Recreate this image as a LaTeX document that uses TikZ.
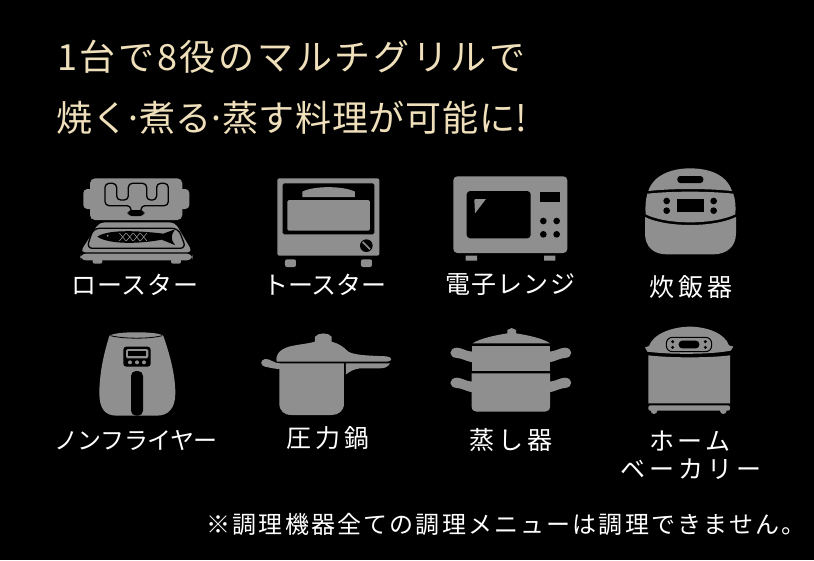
\documentclass[tikz,border=0pt]{standalone}
\usepackage{fontspec}
\setmainfont{Noto Sans CJK JP}
\definecolor{ico}{HTML}{8F8F8F}
\definecolor{gold}{HTML}{EFE0BB}
\tikzset{
 lab/.style={text=white,inner sep=0pt,anchor=center},
 ttl/.style={text=gold,inner sep=0pt,anchor=west},
 ic/.style={fill=ico,draw=none},
 bk/.style={fill=black,draw=none},
 zoomA/.style={shift={(60,165)},scale=0.33333},
 zoomB/.style={shift={(430,165)},scale=0.33333},
 zoomC/.style={shift={(60,325)},scale=0.33333},
 zoomD/.style={shift={(430,320)},scale=0.33333},
}
\begin{document}
\begin{tikzpicture}[x=1pt,y=-1pt]
\useasboundingbox (0,0) rectangle (814,560);
\fill[black] (0,0) rectangle (814,560);
% titles
\node[ttl] (t1) at (57,57) {\fontsize{36}{36}\selectfont\addfontfeature{LetterSpace=7.5}1台で8役のマルチグリルで};
\node[ttl] (t2) at (56,118) {\fontsize{36}{36}\selectfont\addfontfeature{LetterSpace=2}焼く\hspace{-5pt}·\hspace{-5pt}煮る\hspace{-5pt}·\hspace{-5pt}蒸す料理が可能に!};
% labels
\newcommand{\lab}[5]{\node[lab] (#1) at (#2) {\fontsize{#5}{#5}\selectfont\addfontfeature{LetterSpace=#3}#4};}
\lab{l1}{135,285}{3}{ロースター}{25}
\lab{l2}{325,285}{0}{トースター}{25}
\lab{l3}{510,285}{5}{電子レンジ}{25}
\lab{l4}{691,287}{16}{炊飯器}{25}
\lab{l5}{136,440}{-2.5}{ノンフライヤー}{24}
\lab{l6}{328,438}{16}{圧力鍋}{25}
\lab{l7}{511,440}{16}{蒸し器}{25}
\lab{l8}{690,441}{14}{ホーム}{25}
\lab{l9}{691,469}{16}{ベーカリー}{25}
\node[lab] (note) at (506,524) {\fontsize{24}{24}\selectfont\addfontfeature{LetterSpace=9}※調理機器全ての調理メニューは調理できません。};
% roaster
\begin{scope}[zoomA]
\fill[ic,rounded corners=4pt] (70,72) rectangle (100,132);
\fill[ic,rounded corners=4pt] (355,72) rectangle (388,132);
\fill[ic,rounded corners=5pt] (90,40) -- (367,40) -- (367,165) -- (90,165) -- cycle;
\draw[black,line width=1.3pt,rounded corners=4pt] (213,140) -- (213,122) -- (135,122) -- (135,55) -- (170,55) -- (170,105) -- (205,105) -- (205,55) -- (260,55) -- (260,105) -- (290,105) -- (290,55) -- (325,55) -- (325,122) -- (243,122) -- (243,140);
\fill[bk,rounded corners=4pt] (203,135) rectangle (253,153);
\fill[ic,rounded corners=5pt] (118,172) -- (345,172) -- (398,262) -- (60,262) -- cycle;
\fill[ic,rounded corners=6pt] (60,266) rectangle (398,286);
\fill[ic,rounded corners=2pt] (98,282) rectangle (127,296);
\fill[ic,rounded corners=2pt] (333,282) rectangle (363,296);
\draw[black,line width=1.3pt,rounded corners=6pt] (100,190) -- (355,190) -- (378,250) -- (80,250) -- cycle;
\fill[bk] (112,215) .. controls (140,195) and (220,195) .. (310,206) -- (345,193) .. controls (332,210) and (332,225) .. (345,240) -- (305,224) .. controls (220,240) and (140,235) .. (112,215) -- cycle;
\fill[ico] (143,212) circle (3);
\foreach \i in {0,1,2,3} {
 \draw[ico,line width=.6pt] ({178+\i*21},204) -- ({198+\i*21},228) ({198+\i*21},204) -- ({178+\i*21},228);
}
\end{scope}
% toaster
\begin{scope}[zoomA]
\fill[ic,rounded corners=2pt] (652,40) rectangle (958,272);
\fill[bk,rounded corners=1.5pt] (668,55) rectangle (943,208);
\fill[ic,rounded corners=1.5pt] (682,105) rectangle (930,197);
\fill[ic] (727,96) -- (727,80) .. controls (760,62) and (850,62) .. (885,80) -- (885,96) -- cycle;
\fill[ic,rounded corners=2pt] (675,283) rectangle (708,306);
\fill[ic,rounded corners=2pt] (903,283) rectangle (936,306);
\fill[bk] (919,242) circle (19);
\draw[ico,line width=1.6pt] (908,231) -- (930,253);
\end{scope}
% microwave
\begin{scope}[zoomB]
\fill[ic,rounded corners=4pt] (70,34) rectangle (412,264);
\fill[ic] (107,272) rectangle (141,287) (342,272) rectangle (376,287);
\fill[bk,rounded corners=3.5pt] (110,78) rectangle (302,220);
\fill[ic] (133,105) .. controls (133,103) .. (136,102) -- (168,102) -- (135,145) -- cycle;
\fill[bk] (330,82) rectangle (390,112);
\foreach \p in {(340,168),(380,168),(340,208),(380,208)} \fill[bk] \p circle (10);
\end{scope}
% rice cooker
\begin{scope}[zoomB]
\fill[ic] (655,78) .. controls (670,30) and (725,10) .. (780,10) .. controls (840,10) and (890,30) .. (906,78) .. controls (830,70) and (730,70) .. (655,78) -- cycle;
\fill[bk,rounded corners=3pt] (742,33) rectangle (820,54);
\fill[ic] (652,86) .. controls (730,78) and (830,78) .. (910,86) .. controls (916,105) and (918,125) .. (916,148) .. controls (850,180) and (710,180) .. (647,148) .. controls (645,125) and (647,105) .. (652,86) -- cycle;
\fill[ic] (645,156) .. controls (710,188) and (850,188) .. (918,156) -- (918,205) .. controls (918,245) and (890,268) .. (850,268) -- (710,268) .. controls (670,268) and (645,245) .. (645,205) -- cycle;
\foreach \p in {(710,108),(710,137),(851,108),(851,137)} \fill[bk] \p circle (10);
\fill[bk] (740,103) rectangle (822,140);
\end{scope}
% air fryer
\begin{scope}[zoomC]
\fill[ic] (148,33) .. controls (160,18) and (300,18) .. (310,33) .. controls (330,90) and (346,150) .. (346,205) .. controls (346,250) and (325,272) .. (290,272) -- (170,272) .. controls (135,272) and (118,250) .. (118,205) .. controls (118,150) and (130,90) .. (148,33) -- cycle;
\draw[black,line width=.8pt] (152,32) .. controls (190,42) and (270,42) .. (306,32);
\fill[bk,rounded corners=3pt] (190,65) rectangle (272,125);
\fill[ic,rounded corners=1.5pt] (198,72) rectangle (265,100);
\fill[bk] (205,78) rectangle (258,94);
\foreach \x in {210,231,252} \fill[ico] (\x,112) circle (6);
\fill[bk,rounded corners=5pt] (213,138) rectangle (249,272);
\end{scope}
% pressure pot
\begin{scope}[zoomC]
\fill[ic] (650,110) .. controls (645,85) and (665,68) .. (700,62) .. controls (725,57) and (750,55) .. (765,50) -- (765,35) .. controls (775,22) and (805,22) .. (815,35) -- (815,50) .. controls (835,55) and (850,65) .. (865,80) .. controls (885,92) and (940,92) .. (980,94) .. controls (998,96) and (998,110) .. (980,110) -- cycle;
\fill[ic] (658,115) -- (852,115) -- (852,235) .. controls (852,258) and (835,270) .. (815,270) -- (695,270) .. controls (672,270) and (658,258) .. (658,235) -- cycle;
\fill[ic] (660,115) .. controls (640,115) and (630,100) .. (615,102) .. controls (600,105) and (600,122) .. (615,125) .. controls (630,128) and (645,132) .. (660,132) -- cycle;
\fill[ic] (858,115) -- (990,115) .. controls (985,125) and (975,130) .. (960,130) -- (900,130) .. controls (880,132) and (870,140) .. (858,148) -- cycle;
\end{scope}
% steamer
\begin{scope}[zoomD]
\fill[ic] (128,70) .. controls (150,55) and (200,45) .. (232,40) -- (232,30) -- (245,24) -- (258,30) -- (258,40) .. controls (290,45) and (340,55) .. (360,70) -- cycle;
\fill[ic] (125,78) rectangle (360,153);
\fill[ic] (125,160) -- (360,160) -- (360,260) .. controls (360,270) and (352,275) .. (345,275) -- (140,275) .. controls (132,275) and (125,270) .. (125,260) -- cycle;
\foreach \y in {0,90} {
 \fill[ic] (128,{95+\y}) .. controls (110,{95+\y}) and (95,{83+\y}) .. (80,{83+\y}) .. controls (55,{85+\y}) and (55,{112+\y}) .. (80,{114+\y}) .. controls (95,{114+\y}) and (110,{125+\y}) .. (128,{127+\y}) -- cycle;
 \fill[ic] (357,{95+\y}) .. controls (375,{95+\y}) and (390,{83+\y}) .. (405,{83+\y}) .. controls (430,{85+\y}) and (430,{112+\y}) .. (405,{114+\y}) .. controls (390,{114+\y}) and (375,{125+\y}) .. (357,{127+\y}) -- cycle;
}
\end{scope}
% bread machine
\begin{scope}[zoomD]
\fill[ic] (657,78) .. controls (670,40) and (730,20) .. (780,20) .. controls (830,20) and (885,40) .. (897,76) -- (910,80) -- (902,92) .. controls (840,104) and (720,104) .. (652,95) -- (645,82) -- cycle;
\fill[ic] (655,106) .. controls (720,114) and (840,114) .. (900,106) -- (900,250) -- (655,250) -- cycle;
\fill[ic,rounded corners=2pt] (655,256) -- (900,256) -- (900,272) -- (655,272) -- cycle;
\fill[ic] (672,272) circle (10) (880,272) circle (10);
\draw[black,line width=1pt,rounded corners=6pt,fill=ico] (709,52) rectangle (845,95);
\fill[bk,rounded corners=3.5pt] (746,62) rectangle (808,85);
\foreach \p in {(728,65),(728,82),(826,65),(826,82)} \fill[bk] \p circle (5);
\end{scope}
\end{tikzpicture}
\end{document}
